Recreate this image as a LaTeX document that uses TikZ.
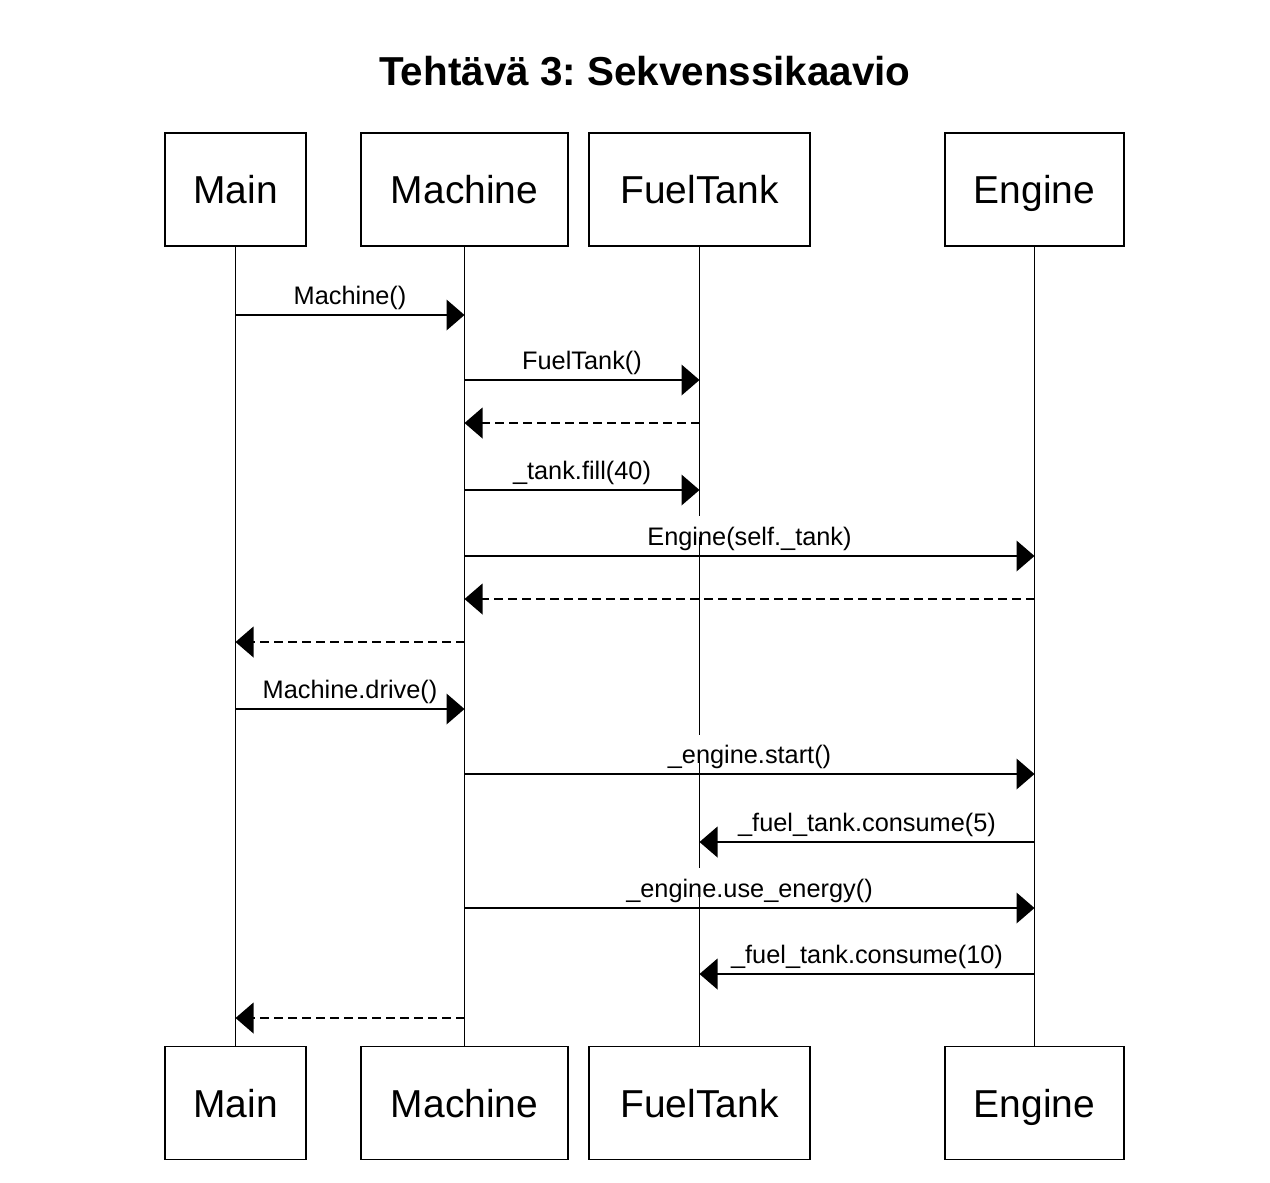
\documentclass[tikz,border=0pt]{standalone}
\usepackage{fontspec}
\setmainfont{Liberation Sans}
\usetikzlibrary{positioning,arrows.meta}

\begin{document}
\frenchspacing
\begin{tikzpicture}[x=0.75pt,y=-0.75pt,>={Triangle[length=13.5pt,width=23pt]},line width=1.2pt]

	\tikzstyle{obj}=[draw,minimum height=84.75pt,inner sep=0pt,text height=21pt,text depth=0pt,font=\fontsize{29.2}{34}\selectfont]
	\tikzstyle{call}=[->]
	\tikzstyle{ret}=[->,dash pattern=on 6.75pt off 3.75pt]
	\tikzstyle{lbl}=[midway,anchor=base,yshift=8pt,inner sep=0pt,font=\fontsize{19}{23}\selectfont]

	\useasboundingbox (0,0) rectangle (1270,1182);

	\node[anchor=base,font=\bfseries\fontsize{30.3}{36}\selectfont] (title) at (645,85) {Tehtävä 3: Sekvenssikaavio};

	% objects at the top
	\node[obj,minimum width=105.75pt] (main) at (235.5,189.5) {Main};
	\node[obj,minimum width=155.25pt] (mach) at (464.5,189.5) {Machine};
	\node[obj,minimum width=165.75pt] (ft) at (699.5,189.5) {FuelTank};
	\node[obj,minimum width=134.25pt] (eng) at (1034.5,189.5) {Engine};

	% same again at the bottom
	\node[obj,minimum width=105.75pt,below=599.25pt of main] (mainB) {Main};
	\node[obj,minimum width=155.25pt,below=599.25pt of mach] (machB) {Machine};
	\node[obj,minimum width=165.75pt,below=599.25pt of ft] (ftB) {FuelTank};
	\node[obj,minimum width=134.25pt,below=599.25pt of eng] (engB) {Engine};

	% lifelines
	\draw (main) -- (mainB);
	\draw (mach) -- (machB);
	\draw (ft) -- (ft |- 0,516) (ft |- 0,537) -- (ft |- 0,735)
		(ft |- 0,763) -- (ft |- 0,868) (ft |- 0,895) -- (ftB);
	\draw (eng) -- (engB);

	% messages
	\foreach \a/\b/\y/\st/\txt in {
		main/mach/315/call/{Machine()},
		mach/ft/380/call/{FuelTank()},
		ft/mach/423/ret/{},
		mach/ft/490/call/{\_tank.fill(40)},
		mach/eng/556/call/{Engine(self.\_tank)},
		eng/mach/599/ret/{},
		mach/main/642/ret/{},
		main/mach/709/call/{Machine.drive()},
		mach/eng/774/call/{\_engine.start()},
		eng/ft/842/call/{\_fuel\_tank.consume(5)},
		mach/eng/908/call/{\_engine.use\_energy()},
		eng/ft/974/call/{\_fuel\_tank.consume(10)},
		mach/main/1018/ret/{}}
		\draw[\st] (\a |- 0,\y) -- node[lbl] {\txt} (\b |- 0,\y);

\end{tikzpicture}
\end{document}
